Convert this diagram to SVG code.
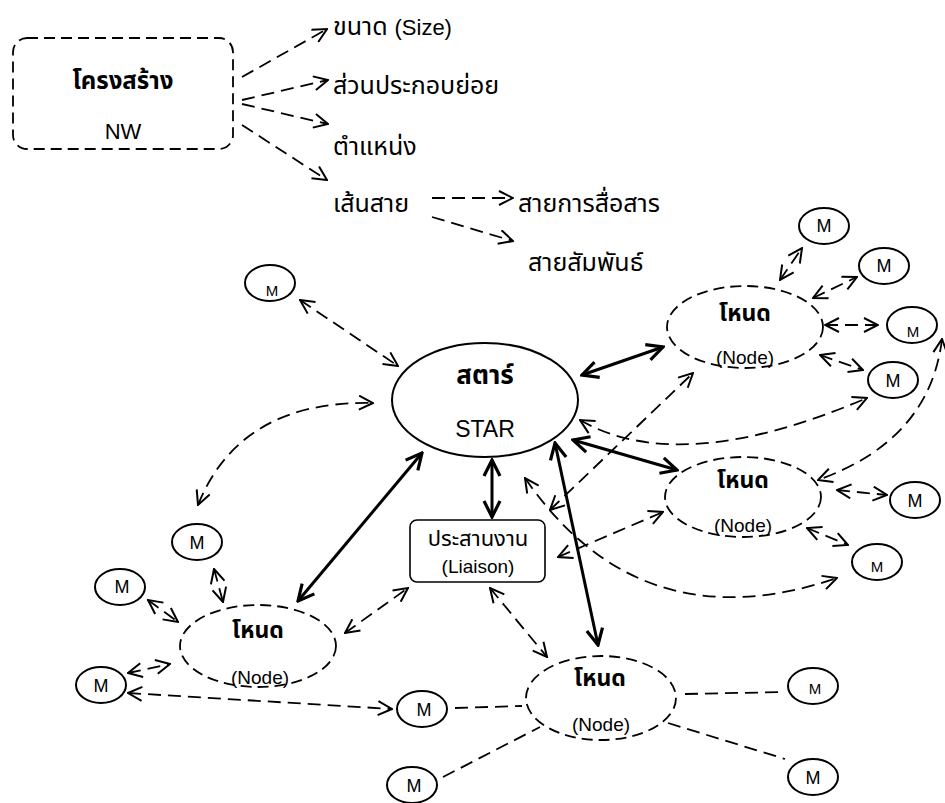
<svg xmlns="http://www.w3.org/2000/svg" width="945" height="803" viewBox="0 0 945 803">
<style>
text{font-family:"Liberation Sans","Noto Sans Thai","Noto Sans","DejaVu Sans",sans-serif;fill:#000}
.t{font-size:25px}
.lat{font-size:22px}
.b{font-weight:bold}
.m{font-size:18px;text-anchor:middle}
.ms{font-size:15px;text-anchor:middle}
.c{text-anchor:middle}
.solid{fill:#fff;stroke:#000;stroke-width:2}
.dsh{fill:none;stroke:#000;stroke-width:1.8;stroke-dasharray:11 6}
.dl{fill:none;stroke:#000;stroke-width:1.8;stroke-dasharray:13 7}
.da{fill:none;stroke:#000;stroke-width:1.8;stroke-dasharray:13 7;marker-end:url(#ah)}
.dd{fill:none;stroke:#000;stroke-width:1.8;stroke-dasharray:13 7;marker-start:url(#ah);marker-end:url(#ah)}
.th{fill:none;stroke:#000;stroke-width:3;marker-start:url(#ahb);marker-end:url(#ahb)}
</style>
<defs>
<marker id="ah" viewBox="0 0 16 16" refX="15" refY="8" markerWidth="16" markerHeight="16" markerUnits="userSpaceOnUse" orient="auto-start-reverse"><path d="M1,1 L15,8 L1,15" fill="none" stroke="#000" stroke-width="2"/></marker>
<marker id="ahb" viewBox="0 0 20 20" refX="18" refY="10" markerWidth="20" markerHeight="20" markerUnits="userSpaceOnUse" orient="auto-start-reverse"><path d="M2,2 L18,10 L2,18" fill="none" stroke="#000" stroke-width="3.2"/></marker>
</defs>
<rect width="945" height="803" fill="#fff"/>

<g id="connectors">
<path class="da" d="M242,77 L327,29"/>
<path class="da" d="M242,100 L328,80"/>
<path class="da" d="M242,104 L328,124"/>
<path class="da" d="M242,125 L327,180"/>
<path class="da" d="M432,198 L513,198"/>
<path class="da" d="M432,217 L513,241"/>
<path class="th" d="M582,375 L663,347"/>
<path class="th" d="M573,440 L677,470"/>
<path class="th" d="M492,460 L492,517"/>
<path class="th" d="M298,601 L422,453"/>
<path class="th" d="M555,443 L598,645"/>
<path class="dd" d="M300,300 L398,366"/>
<path class="dd" d="M198,505 Q240,400 373,403"/>
<path class="dd" d="M214,569 L223,602"/>
<path class="dd" d="M148,600 L178,622"/>
<path class="dd" d="M128,673 L170,664"/>
<path class="dd" d="M128,693 L392,709"/>
<path class="dd" d="M345,633 L408,588"/>
<path class="dd" d="M490,588 L547,657"/>
<path class="dl" d="M455,708 L522,706"/>
<path class="dl" d="M443,777 L540,727"/>
<path class="dl" d="M685,694 L785,692"/>
<path class="dl" d="M668,723 L785,759"/>
<path class="dd" d="M550,510 L693,373"/>
<path class="dd" d="M558,557 L663,512"/>
<path class="dd" d="M580,420 Q680,478 867,398"/>
<path class="dd" d="M942,339 Q930,440 818,480"/>
<path class="dd" d="M525,478 Q640,645 837,578"/>
<path class="dd" d="M780,280 L802,248"/>
<path class="dd" d="M813,298 L857,277"/>
<path class="dd" d="M825,325 L878,325"/>
<path class="dd" d="M820,355 L863,370"/>
<path class="dd" d="M837,490 L887,495"/>
<path class="dd" d="M807,528 L848,545"/>
</g>

<g id="structure">
<rect class="dsh" x="13" y="38" width="220" height="111" rx="14"/>
<text class="b c" style="font-size:24px" x="123" y="89">โครงสร้าง</text>
<text class="lat c" x="123" y="139">NW</text>
</g>
<g id="size"><text class="t" x="333" y="35">ขนาด <tspan class="lat">(Size)</tspan></text></g>
<g id="sub"><text class="t" x="333" y="94">ส่วนประกอบย่อย</text></g>
<g id="pos"><text class="t" x="333" y="155">ตำแหน่ง</text></g>
<g id="line"><text class="t" x="333" y="212">เส้นสาย</text></g>
<g id="comm"><text class="t" x="518" y="212">สายการสื่อสาร</text></g>
<g id="rel"><text class="t" x="528" y="271">สายสัมพันธ์</text></g>

<g id="star">
<ellipse class="solid" cx="485" cy="400" rx="93" ry="57"/>
<text class="b c" style="font-size:26px" x="485" y="384">สตาร์</text>
<text class="c" style="font-size:23px" x="485" y="437">STAR</text>
</g>
<g id="liaison">
<rect x="410" y="520" width="135" height="62" rx="7" fill="#fff" stroke="#000" stroke-width="1.6"/>
<text class="c" style="font-size:22px" x="478" y="546">ประสานงาน</text>
<text class="c" style="font-size:19px" x="478" y="573">(Liaison)</text>
</g>
<g id="node1">
<ellipse class="dsh" cx="745" cy="327" rx="78" ry="41"/>
<text class="b c" style="font-size:23px" x="745" y="321">โหนด</text>
<text class="c" style="font-size:19px" x="745" y="364">(Node)</text>
</g>
<g id="node2">
<ellipse class="dsh" cx="743" cy="497" rx="78" ry="40"/>
<text class="b c" style="font-size:23px" x="743" y="488">โหนด</text>
<text class="c" style="font-size:19px" x="743" y="532">(Node)</text>
</g>
<g id="node3">
<ellipse class="dsh" cx="258" cy="646" rx="78" ry="41"/>
<text class="b c" style="font-size:23px" x="258" y="638">โหนด</text>
<text class="c" style="font-size:19px" x="260" y="684">(Node)</text>
</g>
<g id="node4">
<ellipse class="dsh" cx="601" cy="698" rx="75" ry="42"/>
<text class="b c" style="font-size:23px" x="600" y="686">โหนด</text>
<text class="c" style="font-size:19px" x="601" y="731">(Node)</text>
</g>

<g id="m1"><ellipse class="solid" cx="824" cy="226" rx="25" ry="18"/><text class="m" x="824" y="232">M</text></g>
<g id="m2"><ellipse class="solid" cx="884" cy="266" rx="25" ry="18"/><text class="m" x="884" y="272">M</text></g>
<g id="m3"><ellipse class="solid" cx="912" cy="325" rx="25" ry="18"/><text class="ms" x="913" y="337">M</text></g>
<g id="m4"><ellipse class="solid" cx="893" cy="380" rx="25" ry="18"/><text class="m" x="893" y="387">M</text></g>
<g id="m5"><ellipse class="solid" cx="915" cy="500" rx="25" ry="18"/><text class="m" x="915" y="507">M</text></g>
<g id="m6"><ellipse class="solid" cx="877" cy="562" rx="25" ry="18"/><text class="ms" x="877" y="572">M</text></g>
<g id="m7"><ellipse class="solid" cx="270" cy="283" rx="25" ry="18"/><text class="ms" x="272" y="296">M</text></g>
<g id="m8"><ellipse class="solid" cx="197" cy="542" rx="25" ry="18"/><text class="m" x="197" y="549">M</text></g>
<g id="m9"><ellipse class="solid" cx="120" cy="587" rx="25" ry="18"/><text class="m" x="122" y="593">M</text></g>
<g id="m10"><ellipse class="solid" cx="101" cy="685" rx="25" ry="18"/><text class="m" x="101" y="692">M</text></g>
<g id="m11"><ellipse class="solid" cx="422" cy="709" rx="25" ry="18"/><text class="m" x="424" y="716">M</text></g>
<g id="m12"><ellipse class="solid" cx="412" cy="785" rx="25" ry="18"/><text class="m" x="414" y="792">M</text></g>
<g id="m13"><ellipse class="solid" cx="813" cy="686" rx="25" ry="18"/><text class="ms" x="815" y="694">M</text></g>
<g id="m14"><ellipse class="solid" cx="813" cy="777" rx="25" ry="18"/><text class="m" x="813" y="784">M</text></g>
</svg>
